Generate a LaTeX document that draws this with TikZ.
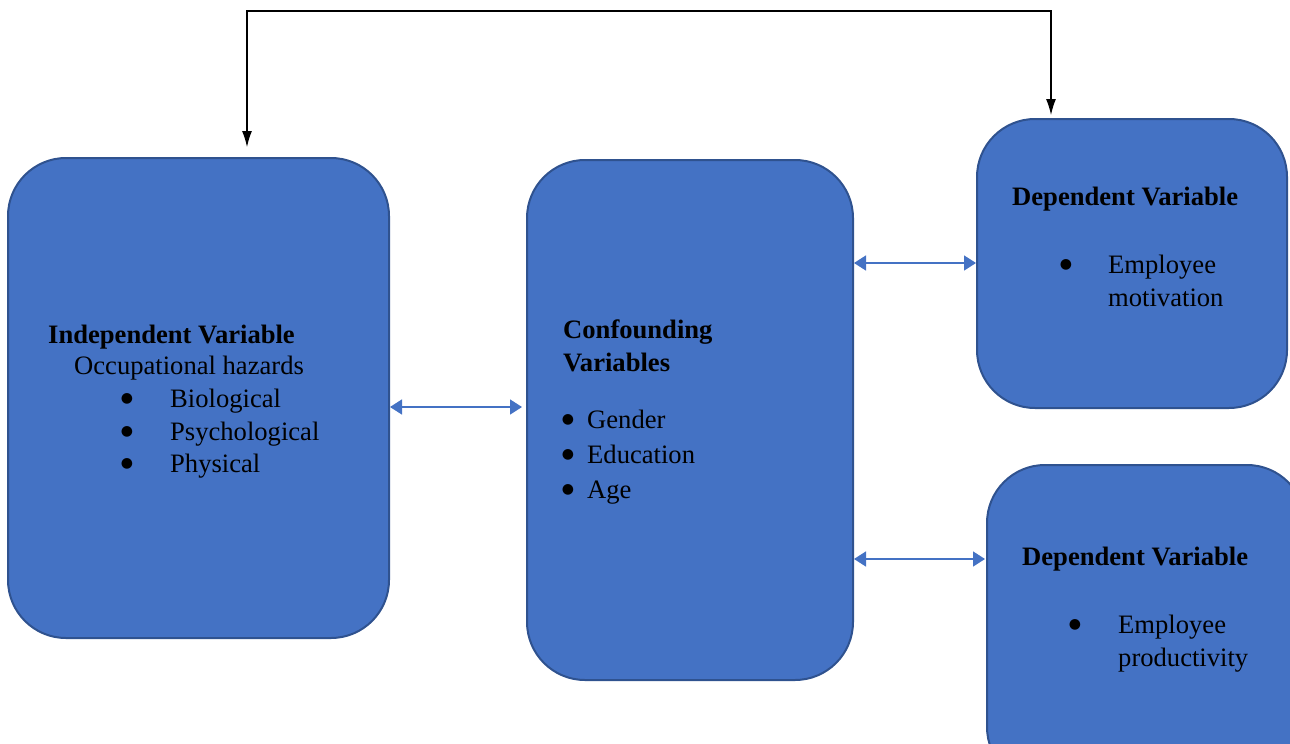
\documentclass[tikz,border=0pt]{standalone}
\usepackage{fontspec}
\setmainfont{Liberation Serif}
\newfontfamily\bulfont{DejaVu Sans}
\usetikzlibrary{arrows.meta}
\definecolor{boxfill}{HTML}{4472C4}
\definecolor{boxline}{HTML}{2F528F}
\definecolor{arrowblue}{HTML}{4472C4}
\tikzset{
  box/.style={draw=boxline, fill=boxfill, line width=2pt, rounded corners=58pt, inner sep=0pt},
  txt/.style={anchor=base west, inner sep=0pt, font=\fontsize{26.6}{32}\selectfont},
  btxt/.style={txt, font=\fontsize{26.6}{32}\selectfont\bfseries},
  bul/.style={anchor=base, inner sep=0pt, yshift=4.5pt, font=\bulfont\fontsize{14}{15}\selectfont},
  bluearrow/.style={draw=arrowblue, line width=1.5pt, {Triangle[length=12pt,width=15pt]}-{Triangle[length=12pt,width=15pt]}},
  blackarrow/.style={draw=black, line width=1.2pt, -{Latex[length=16pt,width=10pt]}}
}
\begin{document}
\begin{tikzpicture}[x=1pt,y=-1pt]
\useasboundingbox (0,0) rectangle (1290,744);
\clip (0,0) rectangle (1290,744);
% boxes
\node[box, minimum width=381pt, minimum height=480pt] (L) at (198.5,398) {};
\node[box, minimum width=326pt, minimum height=520pt] (M) at (690,420) {};
\node[box, minimum width=310pt, minimum height=289pt] (T) at (1132,263.5) {};
\node[box, minimum width=318pt, minimum height=320pt] (B) at (1146,625) {};
% left box text
\node[btxt] (l1) at (48,343) {Independent Variable};
\node[txt] (l2) at (74,374) {Occupational hazards};
\node[bul] (lb1) at (127,407) {●};
\node[txt] (l3) at (170,407) {Biological};
\node[bul] (lb2) at (127,440) {●};
\node[txt] (l4) at (170,440) {Psychological};
\node[bul] (lb3) at (127,472) {●};
\node[txt] (l5) at (170,472) {Physical};
% middle text
\node[btxt] (m1) at (563,338) {Confounding};
\node[btxt] (m2) at (563,371) {Variables};
\node[bul] (mb1) at (568,428) {●};
\node[txt] (m3) at (587,428) {Gender};
\node[bul] (mb2) at (568,463) {●};
\node[txt] (m4) at (587,463) {Education};
\node[bul] (mb3) at (568,498) {●};
\node[txt] (m5) at (587,498) {Age};
% top right text
\node[btxt] (t1) at (1012,205) {Dependent Variable};
\node[bul] (tb1) at (1066,273) {●};
\node[txt] (t2) at (1108,273) {Employee};
\node[txt] (t3) at (1108,306) {motivation};
% bottom right text
\node[btxt] (b1) at (1022,565) {Dependent Variable};
\node[bul] (bb1) at (1075,633) {●};
\node[txt] (b2) at (1118,633) {Employee};
\node[txt] (b3) at (1118,666) {productivity};
% blue connectors
\coordinate (lmA) at (L.east |- 0,407);
\coordinate (lmB) at (522,407);
\draw[bluearrow] (lmA) -- (lmB);
\coordinate (mtA) at (M.east |- 0,263);
\coordinate (mtB) at (T.west |- 0,263);
\draw[bluearrow] (mtA) -- (mtB);
\coordinate (mbA) at (M.east |- 0,559);
\coordinate (mbB) at (985,559);
\draw[bluearrow] (mbA) -- (mbB);
% black connector
\coordinate (kL) at (247,11);
\coordinate (kR) at (1051,11);
\coordinate (tipL) at (247,147);
\coordinate (tipR) at (1051,115);
\draw[blackarrow] (kR) -- (kL) -- (tipL);
\draw[blackarrow] (kL) -- (kR) -- (tipR);
\end{tikzpicture}
\end{document}
